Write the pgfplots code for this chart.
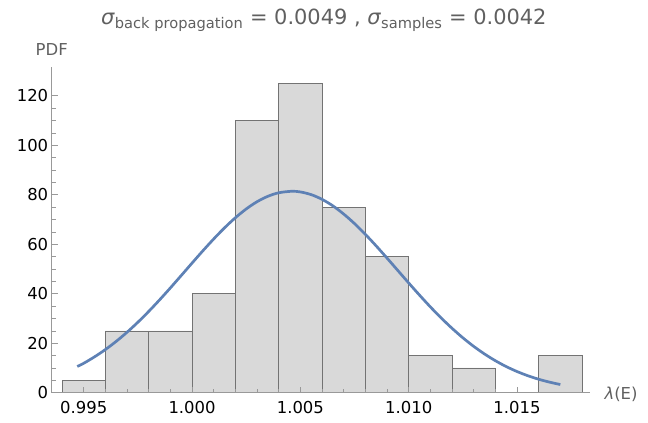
\documentclass[border=0pt]{standalone}
\usepackage{pgfplots}
\pgfplotsset{compat=1.18}
\usepackage{fontspec}
\setmainfont{DejaVu Sans}
\definecolor{curveblue}{HTML}{5E81B5}
\definecolor{axisgray}{HTML}{999999}
\definecolor{labelgray}{HTML}{606060}
\begin{document}
\begin{tikzpicture}
\useasboundingbox (0,0) rectangle (648bp,423bp);
\begin{axis}[
  at={(51.7bp,30.3bp)}, anchor=south west,
  scale only axis, width=538.3bp, height=325.4bp,
  xmin=0.99352, xmax=1.01837, ymin=0, ymax=131.5,
  axis lines=left, axis line style={-, draw=axisgray, line width=0.6bp},
  axis on top,
  xtick={0.995,1.000,1.005,1.010,1.015},
  minor x tick num=4,
  ytick={0,20,40,60,80,100,120},
  minor y tick num=3,
  tick style={draw=axisgray, line width=0.6bp},
  major tick length=6bp, minor tick length=4bp,
  tick align=inside,
  scaled x ticks=false,
  xticklabel style={yshift=-5bp, /pgf/number format/fixed, /pgf/number format/fixed zerofill, /pgf/number format/precision=3},
  /pgf/number format/assume math mode=true,
  ticklabel style={font=\fontsize{16.5}{19}\selectfont, text=black},
  xlabel={\textit{λ}(E)},
  xlabel style={at={(rel axis cs:1,0)}, anchor=west, xshift=11bp, yshift=-2bp, font=\fontsize{16.5}{19}\selectfont, text=labelgray},
  ylabel={PDF},
  ylabel style={at={(rel axis cs:0,1)}, rotate=-90, anchor=base, yshift=11.3bp, font=\fontsize{16.5}{19}\selectfont, text=labelgray},
  title={\textit{σ}\textsubscript{back propagation} = 0.0049 , \textit{σ}\textsubscript{samples} = 0.0042},
  title style={at={(rel axis cs:0.5,1)}, anchor=base, yshift=37bp, xshift=3bp, font=\fontsize{21}{24}\selectfont, text=labelgray},
]
\addplot[ybar interval, fill=gray!30, draw=black!55, line width=0.5bp] coordinates {
(0.994,5) (0.996,25) (0.998,25) (1.000,40) (1.002,110) (1.004,125) (1.006,75) (1.008,55) (1.010,15) (1.012,10) (1.014,0) (1.016,15) (1.018,15)
};
\addplot[curveblue, line width=2.7bp, smooth] coordinates {
(0.9947,10.6) (0.9950,11.9) (0.9955,14.51) (0.9960,17.45) (0.9965,20.76) (0.9970,24.45) (0.9975,28.49) (0.9980,32.86) (0.9985,37.51) (0.9990,42.36) (0.9995,47.36) (1.0000,52.39) (1.0005,57.36) (1.0010,62.14) (1.0015,66.64) (1.0020,70.71) (1.0025,74.26) (1.0030,77.18) (1.0035,79.37) (1.0040,80.79) (1.0046,81.40) (1.0050,81.13) (1.0055,80.04) (1.0060,78.14) (1.0065,75.51) (1.0070,72.19) (1.0075,68.33) (1.0080,63.99) (1.0085,59.31) (1.0090,54.39) (1.0095,49.37) (1.0100,44.35) (1.0105,39.43) (1.0110,34.68) (1.0115,30.20) (1.0120,26.03) (1.0125,22.19) (1.0130,18.73) (1.0135,15.65) (1.0140,12.93) (1.0145,10.57) (1.0150,8.56) (1.0155,6.86) (1.0160,5.44) (1.0165,4.27) (1.0170,3.31)
};
\end{axis}
\end{tikzpicture}
\end{document}
